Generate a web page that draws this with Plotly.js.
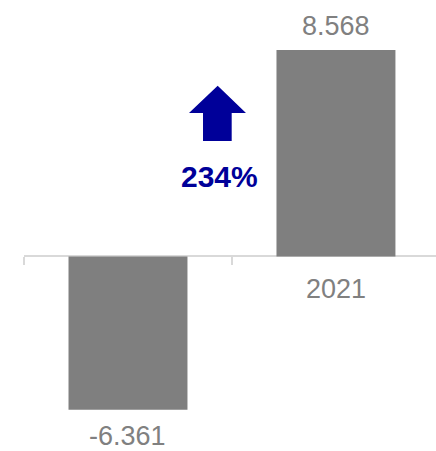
<!DOCTYPE html>
<html>
<head>
<meta charset="utf-8">
<script src="https://cdn.plot.ly/plotly-3.0.1.min.js"></script>
<style>html,body{margin:0;padding:0;background:#fff;}#chart{width:436px;height:451px;}</style>
</head>
<body>
<div id="chart"></div>
<script>
var categories = ["2020", "2021"];
var values = [-6.361, 8.568];
var valueLabels = ["-6.361", "8.568"];
var changeLabel = "234%";

var yRange = [-8.071, 10.643];
var zeroPos = (0 - yRange[0]) / (yRange[1] - yRange[0]);
var grey = "#808080";
var navy = "#000099";
var font = "Liberation Sans, Arial, sans-serif";

var trace = {
  type: "bar",
  x: categories,
  y: values,
  marker: {color: "#7f7f7f"},
  hoverinfo: "none"
};

var annotations = categories.map(function (c, i) {
  var pos = values[i] >= 0;
  return {
    x: i, y: values[i], xref: "x", yref: "y",
    text: valueLabels[i], showarrow: false,
    xanchor: "center", yanchor: pos ? "bottom" : "top",
    yshift: pos ? 8 : -10,
    borderpad: 0,
    font: {family: font, size: 27, color: grey}
  };
});
annotations.push({
  x: 0.4757, y: 0.608, xref: "paper", yref: "paper",
  text: "<b>" + changeLabel + "</b>", showarrow: false,
  xanchor: "center", yanchor: "middle",
  font: {family: font, size: 30, color: navy}
});

var layout = {
  width: 436, height: 451,
  margin: {l: 24, r: 0, t: 0, b: 0, pad: 0},
  paper_bgcolor: "#fff", plot_bgcolor: "#fff",
  showlegend: false,
  bargap: 0.428,
  xaxis: {
    type: "category",
    range: [-0.5, 1.481],
    anchor: "free", position: zeroPos,
    showline: true, linecolor: "#d9d9d9", linewidth: 2,
    ticks: "outside", ticklen: 8, tickwidth: 2, tickcolor: "#d9d9d9",
    tickson: "boundaries",
    ticklabelstandoff: 8,
    showgrid: false, zeroline: false,
    layer: "below traces",
    tickfont: {family: font, size: 27, color: grey},
    fixedrange: true
  },
  yaxis: {
    range: yRange,
    visible: false, showgrid: false, zeroline: false,
    fixedrange: true
  },
  shapes: [{
    type: "path", xref: "paper", yref: "paper",
    path: "M 0.4345,0.6874 L 0.4345,0.7494 L 0.4005,0.7494 L 0.4701,0.8100 L 0.5388,0.7494 L 0.5041,0.7494 L 0.5041,0.6874 Z",
    fillcolor: navy, line: {width: 0}
  }],
  annotations: annotations
};

Plotly.newPlot("chart", [trace], layout, {displayModeBar: false, staticPlot: true});
</script>
</body>
</html>
